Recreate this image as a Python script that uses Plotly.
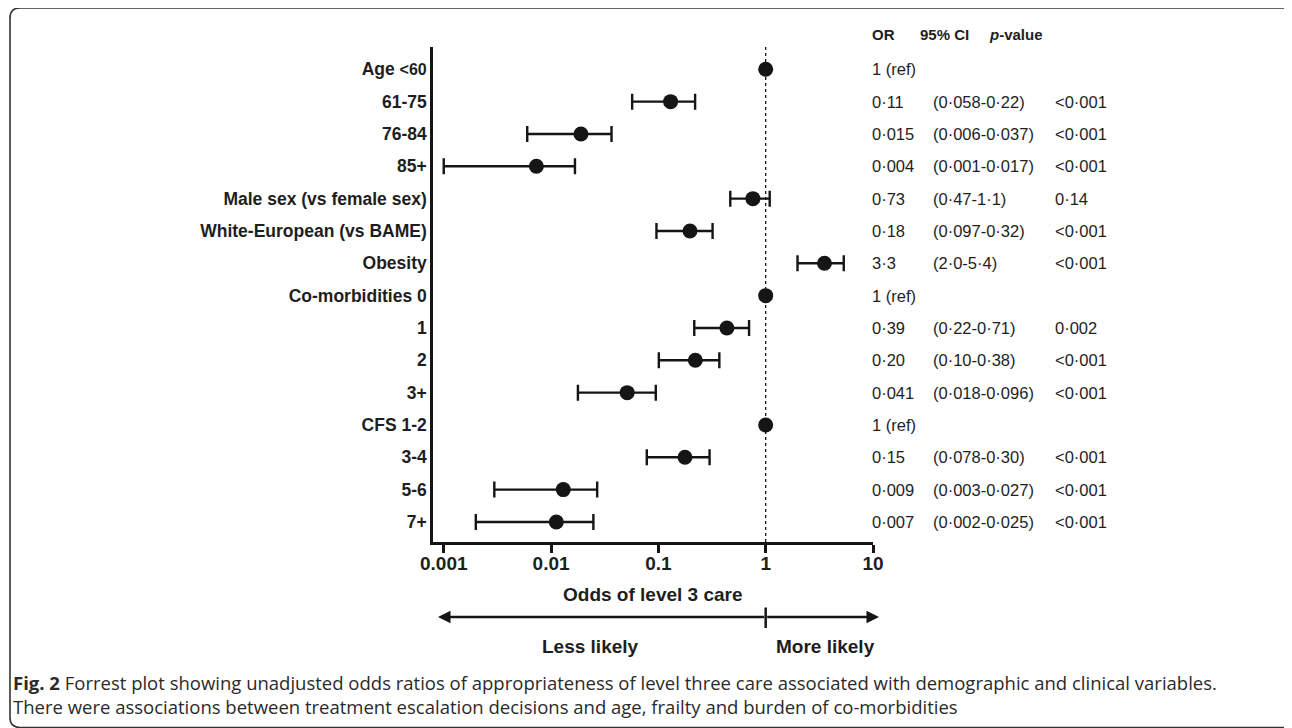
import plotly.graph_objects as go

# ---------------- data ----------------
labels = ["Age <span style='font-size:16px'>&lt;60</span>", "61-75", "76-84", "85+",
          "Male sex (vs female sex)", "White-European (vs BAME)", "Obesity",
          "Co-morbidities 0", "1", "2", "3+", "CFS 1-2", "3-4", "5-6", "7+"]
or_plot = [1, 0.13, 0.019, 0.0073, 0.76, 0.197, 3.53, 1, 0.435, 0.221, 0.0512,
           1, 0.177, 0.013, 0.0112]
ci_low = [None, 0.057, 0.006, 0.001, 0.468, 0.096, 1.98, None, 0.216, 0.101,
          0.0178, None, 0.078, 0.00296, 0.00199]
ci_high = [None, 0.22, 0.0366, 0.0167, 1.09, 0.32, 5.34, None, 0.70, 0.37,
           0.0946, None, 0.30, 0.0269, 0.0248]
or_text = ["1 (ref)", "0·11", "0·015", "0·004", "0·73", "0·18", "3·3", "1 (ref)",
           "0·39", "0·20", "0·041", "1 (ref)", "0·15", "0·009", "0·007"]
ci_text = ["", "(0·058-0·22)", "(0·006-0·037)", "(0·001-0·017)", "(0·47-1·1)",
           "(0·097-0·32)", "(2·0-5·4)", "", "(0·22-0·71)", "(0·10-0·38)",
           "(0·018-0·096)", "", "(0·078-0·30)", "(0·003-0·027)", "(0·002-0·025)"]
p_text = ["", "&lt;0·001", "&lt;0·001", "&lt;0·001", "0·14", "&lt;0·001", "&lt;0·001", "",
          "0·002", "&lt;0·001", "&lt;0·001", "", "&lt;0·001", "&lt;0·001", "&lt;0·001"]
headers = ["OR", "95% CI", "<i>p</i>-value"]
tick_vals = [0.001, 0.01, 0.1, 1, 10]
tick_text = ["0.001", "0.01", "0.1", "1", "10"]
x_title = "Odds of level 3 care"
less_more = ["Less likely", "More likely"]
caption1 = ("<b>Fig. 2</b> Forrest plot showing unadjusted odds ratios of appropriateness of "
            "level three care associated with demographic and clinical variables.")
caption2 = ("There were associations between treatment escalation decisions and age, "
            "frailty and burden of co-morbidities")

# ---------------- layout geometry ----------------
# the page body adds an 8px margin, so the figure is 8px smaller and all
# page-pixel positions are shifted by OFF
OFF = 8
W, H = 1292 - OFF, 728 - OFF
ML, MT = 433 - OFF, 47 - OFF
PW, PH = 440, 495
MR, MB = W - ML - PW, H - MT - PH


def px(x):
    return (x - OFF - ML) / PW


def py(y):
    return (MT + PH - (y - OFF)) / PH


INK = "#151515"
TXT = "#1e1e1e"
FONT = "Liberation Sans, Arial, sans-serif"

rows = list(range(len(labels)))
err_idx = [i for i in rows if ci_low[i] is not None]
ref_idx = [i for i in rows if ci_low[i] is None]

fig = go.Figure()

# dotted reference line at OR = 1
fig.add_trace(go.Scatter(x=[1, 1], y=[-0.69, 14.62], mode="lines",
                         line=dict(color=INK, width=1.3, dash="dot"),
                         hoverinfo="skip", showlegend=False))

fig.add_trace(go.Scatter(
    x=[or_plot[i] for i in err_idx], y=err_idx, mode="markers",
    marker=dict(size=15, color=INK),
    error_x=dict(type="data", symmetric=False,
                 array=[ci_high[i] - or_plot[i] for i in err_idx],
                 arrayminus=[or_plot[i] - ci_low[i] for i in err_idx],
                 color=INK, thickness=2.4, width=8),
    showlegend=False, cliponaxis=False))

fig.add_trace(go.Scatter(
    x=[or_plot[i] for i in ref_idx], y=ref_idx, mode="markers",
    marker=dict(size=15, color=INK), showlegend=False, cliponaxis=False))

ann = []
# table
col_x = [870, 931, 1053]
for i in rows:
    for cx, txt in zip(col_x, [or_text[i], ci_text[i], p_text[i]]):
        if txt:
            ann.append(dict(x=px(cx), y=i, xref="paper", yref="y", text=txt,
                            showarrow=False, xanchor="left", yanchor="middle",
                            font=dict(family=FONT, size=16.5, color=TXT)))
for hx, htxt in zip([870, 918, 987], headers):
    ann.append(dict(x=px(hx), y=py(34), xref="paper", yref="paper", text=htxt,
                    showarrow=False, xanchor="left", yanchor="middle",
                    font=dict(family=FONT, size=15, color=TXT, weight="bold")))

# x title
ann.append(dict(x=px(653), y=py(594), xref="paper", yref="paper", text=x_title,
                showarrow=False, xanchor="center", yanchor="middle",
                font=dict(family=FONT, size=19, color=TXT, weight="bold")))

# arrows
ann.append(dict(x=px(438), y=py(617), xref="paper", yref="paper", text="",
                showarrow=True, ax=765.7 - 438, ay=0, arrowhead=2, arrowsize=1,
                arrowwidth=2.5, arrowcolor=INK, standoff=0))
ann.append(dict(x=px(879), y=py(617), xref="paper", yref="paper", text="",
                showarrow=True, ax=765.7 - 879, ay=0, arrowhead=2, arrowsize=1,
                arrowwidth=2.5, arrowcolor=INK, standoff=0))
ann.append(dict(x=px(590), y=py(646), xref="paper", yref="paper", text=less_more[0],
                showarrow=False, xanchor="center", yanchor="middle",
                font=dict(family=FONT, size=19, color=TXT, weight="bold")))
ann.append(dict(x=px(825), y=py(646), xref="paper", yref="paper", text=less_more[1],
                showarrow=False, xanchor="center", yanchor="middle",
                font=dict(family=FONT, size=19, color=TXT, weight="bold")))

# caption (two lines in one text block)
ann.append(dict(x=px(11), y=py(694), xref="paper", yref="paper",
                text=caption1 + "<br>" + caption2,
                showarrow=False, xanchor="left", yanchor="middle", align="left",
                font=dict(family="Open Sans, sans-serif", size=18.5, color="#2a2a2a")))

# shapes: tick on arrow line, rounded frame
shapes = [dict(type="line", xref="x", yref="paper", x0=1, x1=1,
               y0=py(607.5), y1=py(628), line=dict(color=INK, width=2.5))]
x0, y0, x1, y1, r = 10, 8, 1293, 727.5, 10
path = (f"M {px(x0 + r)},{py(y0)} L {px(x1 - r)},{py(y0)} "
        f"Q {px(x1)},{py(y0)} {px(x1)},{py(y0 + r)} "
        f"L {px(x1)},{py(y1 - r)} Q {px(x1)},{py(y1)} {px(x1 - r)},{py(y1)} "
        f"L {px(x0 + r)},{py(y1)} Q {px(x0)},{py(y1)} {px(x0)},{py(y1 - r)} "
        f"L {px(x0)},{py(y0 + r)} Q {px(x0)},{py(y0)} {px(x0 + r)},{py(y0)} Z")
shapes.append(dict(type="path", xref="paper", yref="paper", path=path,
                   line=dict(color="#333333", width=1.6)))

fig.update_layout(
    width=W, height=H, margin=dict(l=ML, r=MR, t=MT, b=MB, autoexpand=False),
    paper_bgcolor="white", plot_bgcolor="white",
    annotations=ann, shapes=shapes, showlegend=False,
    xaxis=dict(type="log", range=[-3.1, 1], tickvals=tick_vals, ticktext=tick_text,
               showgrid=False, zeroline=False, showline=True, linecolor=INK,
               linewidth=2.5, ticks="outside", ticklen=8, tickwidth=2.5,
               tickcolor=INK, ticklabelstandoff=-6,
               tickfont=dict(family=FONT, size=19, color=TXT, weight="bold")),
    yaxis=dict(range=[14.62, -0.69], tickvals=rows, ticktext=labels,
               showgrid=False, zeroline=False, showline=True, linecolor=INK,
               linewidth=2.5, ticks="",
               tickfont=dict(family=FONT, size=17.5, color=TXT, weight="bold")),
)

fig.write_html("out.html")
